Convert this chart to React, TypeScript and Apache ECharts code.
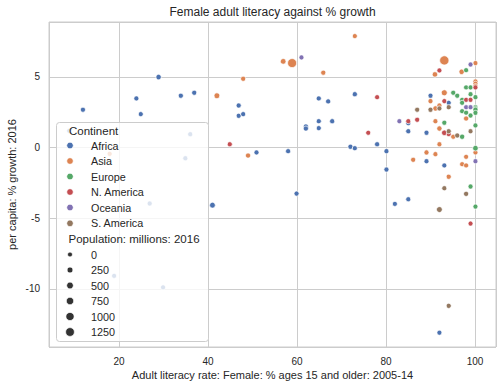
import React, { useEffect, useRef } from "react";
import * as echarts from "echarts";

const FONT = '"Liberation Sans", Arial, sans-serif';
const TEXT = "#262626";
const GRID = "#cccccc";

const continents = ["Africa", "Asia", "Europe", "N. America", "Oceania", "S. America"];
const colors = ["#4c72b0", "#dd8452", "#55a868", "#c44e52", "#8172b3", "#937860"];

// [female literacy %, GDP per capita growth %, population millions]
const africa = [
  [11.9, 2.67, 15], [23.9, 3.47, 20], [24.9, 2.36, 15], [28.9, 4.98, 102], [33.9, 3.66, 25],
  [36.9, 3.87, 20], [46.9, 2.97, 25], [46.9, 2.24, 15], [47.9, 2.36, 20], [64.9, 3.47, 20],
  [67.0, 3.26, 25], [73.0, 3.77, 40], [64.9, 1.86, 20], [67.9, 1.86, 30], [62.0, 1.49, 15],
  [62.0, 1.34, 25], [64.9, 1.37, 20], [50.9, -0.35, 20], [58.0, -0.26, 25], [72.0, 0.05, 20],
  [73.0, -0.05, 15], [59.9, -3.26, 20], [41.0, -4.08, 186], [90.0, 3.66, 10], [94.1, 3.16, 10],
  [85.0, 1.72, 15], [85.0, 1.15, 20], [89.1, 1.04, 10], [78.0, 0.23, 25], [80.1, -0.26, 15],
  [89.1, -0.97, 10], [93.1, -1.27, 5], [80.1, -1.56, 20], [85.0, -3.66, 10], [82.0, -3.99, 10],
  [92.0, -13.1, 6], [8.8, 1.18, 15], [36.0, 0.94, 20], [34.9, -0.76, 15], [26.9, -3.96, 20],
  [18.9, -9.08, 10], [29.9, -9.89, 15],
];
const asia = [
  [42.0, 3.66, 193], [47.9, 4.86, 30], [56.9, 6.09, 163], [58.9, 5.97, 1324], [65.9, 5.29, 30],
  [73.0, 7.88, 15], [49.0, -0.57, 30], [17.9, -0.45, 35], [93.1, 6.16, 1379], [100.1, 5.97, 5],
  [91.0, 5.17, 93], [97.0, 5.35, 103], [100.1, 4.67, 5], [100.1, 4.51, 3], [100.1, 4.34, 10],
  [93.1, 3.87, 261], [90.0, 3.28, 30], [92.0, 2.97, 20], [91.1, 2.76, 68], [98.0, 2.05, 20],
  [91.1, 1.86, 10], [92.0, 1.34, 79], [95.1, 0.76, 10], [92.0, 0.23, 5], [100.1, -0.35, 5],
  [89.1, -0.35, 30], [91.1, -0.47, 10], [86.1, -0.87, 20], [98.0, -0.66, 5], [97.1, -1.18, 3],
  [98.0, -1.27, 5], [94.1, -2.07, 32],
];
const europe = [
  [98.0, 5.47, 10], [98.0, 4.25, 5], [99.0, 4.25, 10], [95.1, 3.87, 5], [96.0, 3.66, 10],
  [99.0, 3.77, 10], [100.1, 3.56, 5], [97.1, 3.37, 10], [97.1, 3.16, 10], [100.1, 2.85, 5],
  [100.1, 2.76, 5], [100.1, 2.67, 40], [97.1, 2.57, 10], [98.0, 2.46, 5], [99.0, 2.26, 10],
  [100.1, 2.45, 5], [93.1, 1.75, 10], [100.1, 1.56, 10], [97.1, 0.76, 60], [100.1, -0.05, 144],
  [99.0, -2.76, 10], [100.1, -4.18, 5],
];
const nAmerica = [
  [44.9, 0.23, 11], [78.0, 3.56, 5], [92.0, 5.45, 10], [100.1, 4.25, 5], [93.1, 3.28, 10],
  [98.0, 3.37, 5], [99.0, 3.37, 5], [85.0, 1.86, 10], [87.0, 1.96, 15], [76.0, 1.04, 5],
  [93.1, 1.04, 127], [94.1, 0.95, 5], [99.0, -5.38, 3],
];
const oceania = [
  [61.0, 6.37, 8], [99.0, 5.87, 1], [98.0, 2.85, 1], [99.0, 2.85, 1], [83.0, 1.86, 1], [100.1, -0.97, 1],
];
const sAmerica = [
  [87.0, 2.67, 10], [90.0, 2.67, 30], [92.0, 2.76, 10], [94.1, 2.85, 15], [94.1, 1.15, 17],
  [96.0, 0.85, 18], [99.0, 1.15, 3], [93.1, -2.88, 11], [98.0, -3.28, 44], [92.0, -4.39, 208],
  [94.1, -11.2, 31],
];
const seriesData = [africa, asia, europe, nAmerica, oceania, sAmerica];

const sizeTicks = [0, 250, 500, 750, 1000, 1250];
const xTicks = [20, 40, 60, 80, 100];
const yTicks = [-10, -5, 0, 5];
const MAX_POP = 1380;

const diam = (pop: number) => Math.sqrt(18 + (54 * pop) / MAX_POP);

export default function App() {
  const ref = useRef<HTMLDivElement>(null);
  useEffect(() => {
    document.body.style.margin = "0";
    const chart = echarts.init(ref.current!, null, { renderer: "svg" });

    const legendX = 70;
    const textX = 91;
    const graphic: any[] = [
      {
        type: "text", x: 272.5, y: 12, z: 10,
        style: { text: "Female adult literacy against % growth", fontSize: 12, fontFamily: FONT, fill: TEXT, align: "center", verticalAlign: "middle" },
      },
      {
        type: "text", x: 272.5, y: 375, z: 10,
        style: { text: "Adult literacy rate: Female: % ages 15 and older: 2005-14", fontSize: 11, fontFamily: FONT, fill: TEXT, align: "center", verticalAlign: "middle" },
      },
      {
        type: "text", x: 12, y: 184.5, rotation: Math.PI / 2, z: 10,
        style: { text: "per capita: % growth: 2016", fontSize: 11, fontFamily: FONT, fill: TEXT, align: "center", verticalAlign: "middle" },
      },
      {
        type: "rect", z: 100,
        shape: { x: 56.5, y: 122.5, width: 152, height: 219, r: 3 },
        style: { fill: "rgba(255,255,255,0.8)", stroke: GRID, lineWidth: 1 },
      },
      {
        type: "text", x: 69, y: 130.7, z: 101,
        style: { text: "Continent", fontSize: 11.5, fontFamily: FONT, fill: TEXT, align: "left", verticalAlign: "middle" },
      },
      {
        type: "text", x: 68.5, y: 238.7, z: 101,
        style: { text: "Population: millions: 2016", fontSize: 11.5, fontFamily: FONT, fill: TEXT, align: "left", verticalAlign: "middle" },
      },
    ];
    const contY = [145.5, 161, 176.5, 192, 207.5, 223.3];
    continents.forEach((c, i) => {
      graphic.push({
        type: "circle", z: 101, shape: { cx: legendX, cy: contY[i], r: 3.3 },
        style: { fill: colors[i], stroke: "#fff", lineWidth: 0.7 },
      });
      graphic.push({
        type: "text", x: textX, y: contY[i], z: 101,
        style: { text: c, fontSize: 10.8, fontFamily: FONT, fill: TEXT, align: "left", verticalAlign: "middle" },
      });
    });
    const sizeY = [254.5, 270, 285.5, 301, 316.5, 332];
    sizeTicks.forEach((s, i) => {
      graphic.push({
        type: "circle", z: 101, shape: { cx: legendX, cy: sizeY[i], r: diam(s) / 2 + 0.3 },
        style: { fill: "#333333", stroke: "#fff", lineWidth: 0.7 },
      });
      graphic.push({
        type: "text", x: textX, y: sizeY[i], z: 101,
        style: { text: String(s), fontSize: 10.8, fontFamily: FONT, fill: TEXT, align: "left", verticalAlign: "middle" },
      });
    });

    const axisCommon = {
      type: "value" as const,
      splitNumber: 5,
      axisLine: { show: false },
      axisTick: { show: false },
      splitLine: { show: true, lineStyle: { color: GRID, width: 1 } },
    };

    chart.setOption({
      animation: false,
      backgroundColor: "#ffffff",
      grid: {
        left: 49, right: 6, top: 22, bottom: 41,
        show: true, borderColor: GRID, borderWidth: 1, backgroundColor: "transparent",
        containLabel: false, outerBoundsMode: "none",
      },
      xAxis: {
        ...axisCommon,
        min: 4.27, max: 104.72,
        axisLabel: {
          color: TEXT, fontSize: 10, fontFamily: FONT, margin: 9,
          formatter: (v: number) => (xTicks.includes(Math.round(v * 1000) / 1000) ? String(v) : ""),
        },
      },
      yAxis: {
        ...axisCommon,
        min: -14.11, max: 8.875,
        axisLabel: {
          color: TEXT, fontSize: 10, fontFamily: FONT, margin: 9,
          formatter: (v: number) => (yTicks.includes(Math.round(v * 1000) / 1000) ? String(v) : ""),
        },
      },
      series: continents.map((c, i) => ({
        name: c,
        type: "scatter",
        data: seriesData[i],
        symbol: "circle",
        symbolSize: (val: number[]) => diam(val[2]) + 0.7,
        itemStyle: { color: colors[i], borderColor: "#ffffff", borderWidth: 0.7, opacity: 1 },
        z: 2,
      })),
      graphic,
    });
    return () => chart.dispose();
  }, []);
  return <div ref={ref} style={{ width: 502, height: 388 }} />;
}
